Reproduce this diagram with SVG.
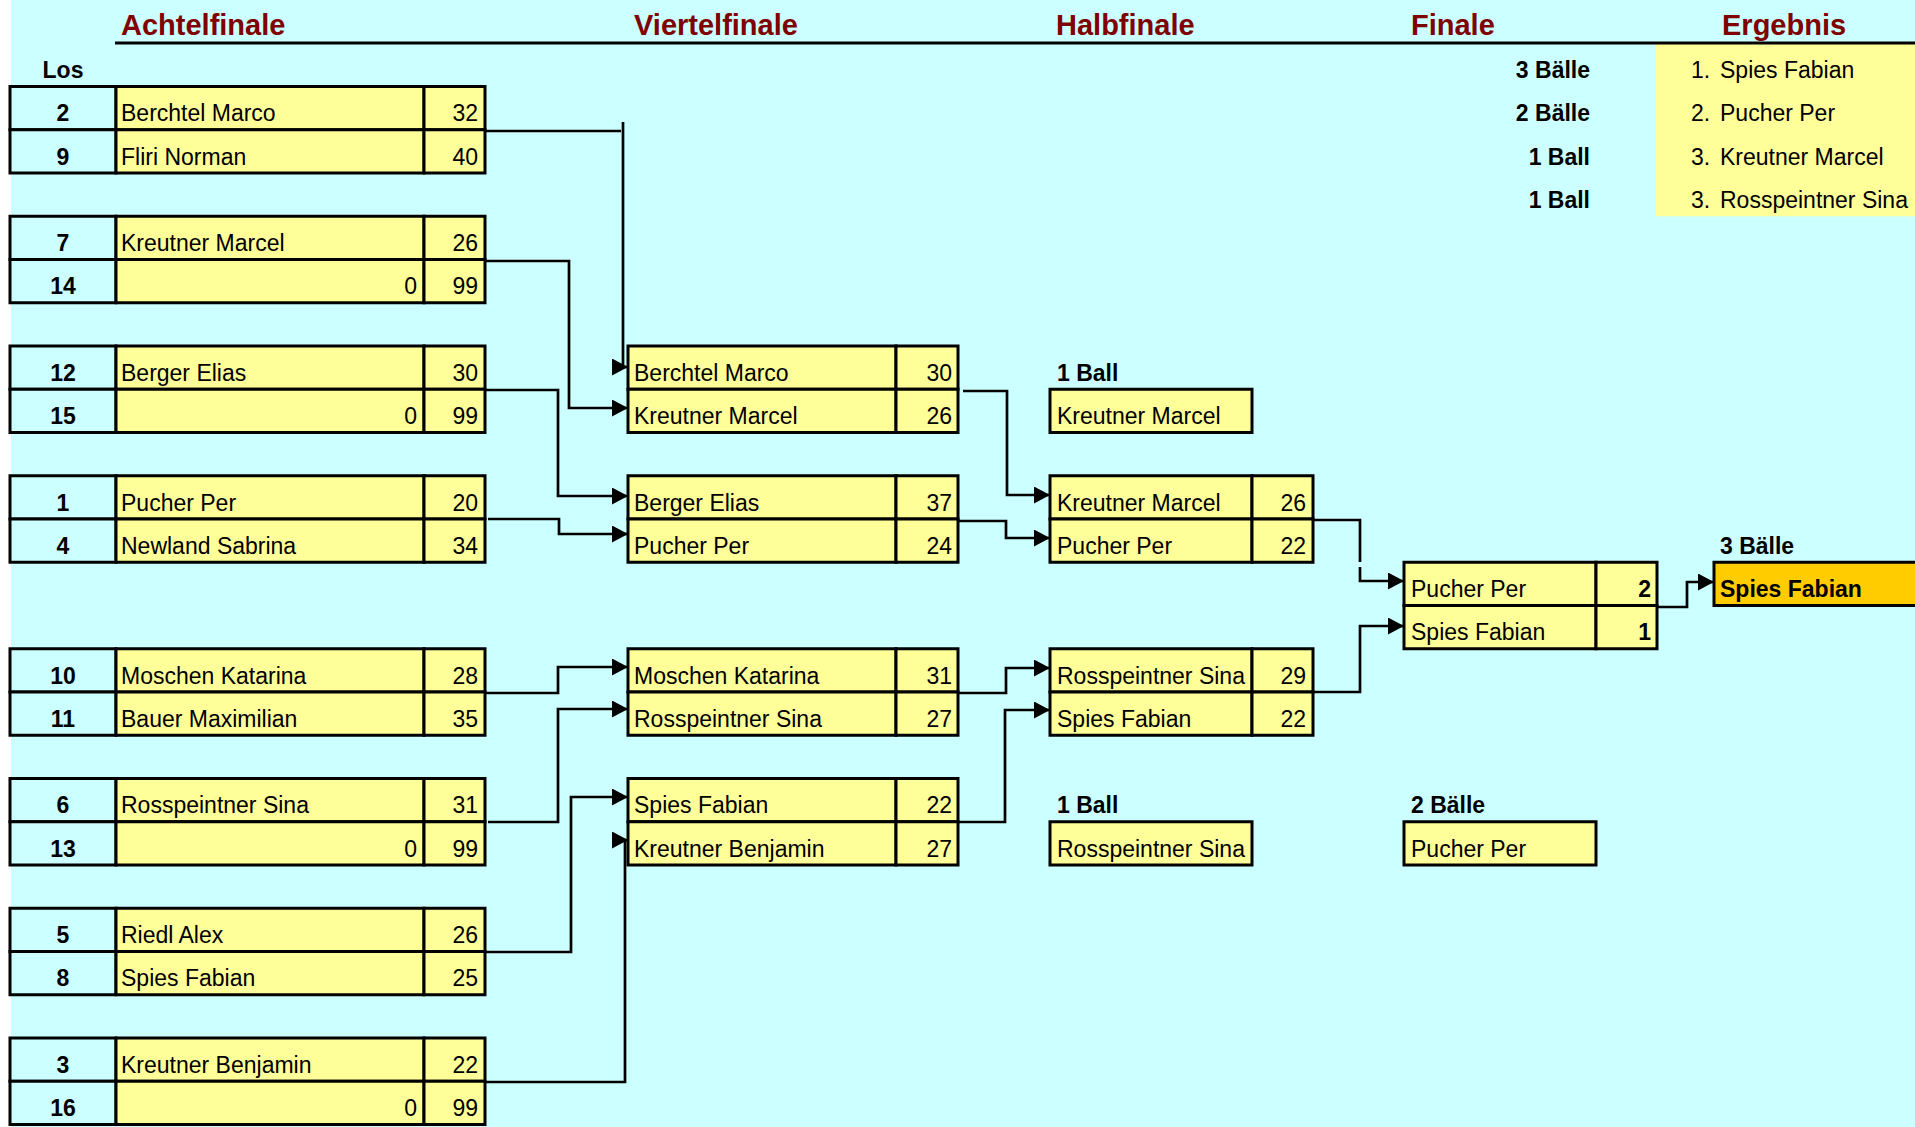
<svg xmlns="http://www.w3.org/2000/svg" width="1915" height="1127" viewBox="0 0 1915 1127">
<defs>
<style>
.cell{fill:#FFFF99;stroke:#000;stroke-width:3}
.los{fill:#CCFFFF;stroke:#000;stroke-width:3}
.t{font-family:"Liberation Sans",Arial,sans-serif;font-size:23px;fill:#000}
.b{font-weight:bold}
.r{text-anchor:end}
.c{text-anchor:middle}
.title{font-family:"Liberation Sans",Arial,sans-serif;font-size:29px;font-weight:bold;fill:#800000}
.conn{fill:none;stroke:#000;stroke-width:2.7}
</style>
<marker id="arr" markerUnits="userSpaceOnUse" markerWidth="17" markerHeight="18" refX="16" refY="8.5" orient="auto">
<path d="M0,0 L16,8.5 L0,17 Z" fill="#000"/>
</marker>
</defs>
<rect x="0" y="0" width="1915" height="1127" fill="#FFFFFF"/>
<rect x="11" y="0" width="1904" height="1127" fill="#CCFFFF"/>

<g id="headers">
<text class="title" x="121" y="34.5">Achtelfinale</text>
<text class="title" x="634" y="34.5">Viertelfinale</text>
<text class="title" x="1056" y="34.5">Halbfinale</text>
<text class="title" x="1411" y="34.5">Finale</text>
<text class="title" x="1722" y="34.5">Ergebnis</text>
</g>

<g id="ergebnis">
<rect x="1656" y="43.25" width="259" height="173" fill="#FFFF99"/>
<text class="t b r" x="1590" y="78">3 Bälle</text>
<text class="t b r" x="1590" y="121.25">2 Bälle</text>
<text class="t b r" x="1590" y="164.5">1 Ball</text>
<text class="t b r" x="1590" y="207.75">1 Ball</text>
<text class="t" x="1691" y="78">1.</text><text class="t" x="1720" y="78">Spies Fabian</text>
<text class="t" x="1691" y="121.25">2.</text><text class="t" x="1720" y="121.25">Pucher Per</text>
<text class="t" x="1691" y="164.5">3.</text><text class="t" x="1720" y="164.5">Kreutner Marcel</text>
<text class="t" x="1691" y="207.75">3.</text><text class="t" x="1720" y="207.75">Rosspeintner Sina</text>
</g>
<line x1="115" y1="43" x2="1915" y2="43" stroke="#000" stroke-width="3"/>

<text class="t b c" x="63" y="78">Los</text>

<g id="m1">
<rect class="los" x="10" y="86.5" width="106" height="43.25"/><rect class="cell" x="116" y="86.5" width="308" height="43.25"/><rect class="cell" x="424" y="86.5" width="61" height="43.25"/>
<rect class="los" x="10" y="129.75" width="106" height="43.25"/><rect class="cell" x="116" y="129.75" width="308" height="43.25"/><rect class="cell" x="424" y="129.75" width="61" height="43.25"/>
<text class="t b c" x="63" y="121.25">2</text><text class="t" x="121" y="121.25">Berchtel Marco</text><text class="t r" x="478" y="121.25">32</text>
<text class="t b c" x="63" y="164.5">9</text><text class="t" x="121" y="164.5">Fliri Norman</text><text class="t r" x="478" y="164.5">40</text>
</g>
<g id="m2">
<rect class="los" x="10" y="216.25" width="106" height="43.25"/><rect class="cell" x="116" y="216.25" width="308" height="43.25"/><rect class="cell" x="424" y="216.25" width="61" height="43.25"/>
<rect class="los" x="10" y="259.5" width="106" height="43.25"/><rect class="cell" x="116" y="259.5" width="308" height="43.25"/><rect class="cell" x="424" y="259.5" width="61" height="43.25"/>
<text class="t b c" x="63" y="251">7</text><text class="t" x="121" y="251">Kreutner Marcel</text><text class="t r" x="478" y="251">26</text>
<text class="t b c" x="63" y="294.25">14</text><text class="t r" x="417" y="294.25">0</text><text class="t r" x="478" y="294.25">99</text>
</g>
<g id="m3">
<rect class="los" x="10" y="346" width="106" height="43.25"/><rect class="cell" x="116" y="346" width="308" height="43.25"/><rect class="cell" x="424" y="346" width="61" height="43.25"/>
<rect class="los" x="10" y="389.25" width="106" height="43.25"/><rect class="cell" x="116" y="389.25" width="308" height="43.25"/><rect class="cell" x="424" y="389.25" width="61" height="43.25"/>
<text class="t b c" x="63" y="380.75">12</text><text class="t" x="121" y="380.75">Berger Elias</text><text class="t r" x="478" y="380.75">30</text>
<text class="t b c" x="63" y="424">15</text><text class="t r" x="417" y="424">0</text><text class="t r" x="478" y="424">99</text>
</g>
<g id="m4">
<rect class="los" x="10" y="475.75" width="106" height="43.25"/><rect class="cell" x="116" y="475.75" width="308" height="43.25"/><rect class="cell" x="424" y="475.75" width="61" height="43.25"/>
<rect class="los" x="10" y="519" width="106" height="43.25"/><rect class="cell" x="116" y="519" width="308" height="43.25"/><rect class="cell" x="424" y="519" width="61" height="43.25"/>
<text class="t b c" x="63" y="510.5">1</text><text class="t" x="121" y="510.5">Pucher Per</text><text class="t r" x="478" y="510.5">20</text>
<text class="t b c" x="63" y="553.75">4</text><text class="t" x="121" y="553.75">Newland Sabrina</text><text class="t r" x="478" y="553.75">34</text>
</g>
<g id="m5">
<rect class="los" x="10" y="648.75" width="106" height="43.25"/><rect class="cell" x="116" y="648.75" width="308" height="43.25"/><rect class="cell" x="424" y="648.75" width="61" height="43.25"/>
<rect class="los" x="10" y="692" width="106" height="43.25"/><rect class="cell" x="116" y="692" width="308" height="43.25"/><rect class="cell" x="424" y="692" width="61" height="43.25"/>
<text class="t b c" x="63" y="683.5">10</text><text class="t" x="121" y="683.5">Moschen Katarina</text><text class="t r" x="478" y="683.5">28</text>
<text class="t b c" x="63" y="726.75">11</text><text class="t" x="121" y="726.75">Bauer Maximilian</text><text class="t r" x="478" y="726.75">35</text>
</g>
<g id="m6">
<rect class="los" x="10" y="778.5" width="106" height="43.25"/><rect class="cell" x="116" y="778.5" width="308" height="43.25"/><rect class="cell" x="424" y="778.5" width="61" height="43.25"/>
<rect class="los" x="10" y="821.75" width="106" height="43.25"/><rect class="cell" x="116" y="821.75" width="308" height="43.25"/><rect class="cell" x="424" y="821.75" width="61" height="43.25"/>
<text class="t b c" x="63" y="813.25">6</text><text class="t" x="121" y="813.25">Rosspeintner Sina</text><text class="t r" x="478" y="813.25">31</text>
<text class="t b c" x="63" y="856.5">13</text><text class="t r" x="417" y="856.5">0</text><text class="t r" x="478" y="856.5">99</text>
</g>
<g id="m7">
<rect class="los" x="10" y="908.25" width="106" height="43.25"/><rect class="cell" x="116" y="908.25" width="308" height="43.25"/><rect class="cell" x="424" y="908.25" width="61" height="43.25"/>
<rect class="los" x="10" y="951.5" width="106" height="43.25"/><rect class="cell" x="116" y="951.5" width="308" height="43.25"/><rect class="cell" x="424" y="951.5" width="61" height="43.25"/>
<text class="t b c" x="63" y="943">5</text><text class="t" x="121" y="943">Riedl Alex</text><text class="t r" x="478" y="943">26</text>
<text class="t b c" x="63" y="986.25">8</text><text class="t" x="121" y="986.25">Spies Fabian</text><text class="t r" x="478" y="986.25">25</text>
</g>
<g id="m8">
<rect class="los" x="10" y="1038" width="106" height="43.25"/><rect class="cell" x="116" y="1038" width="308" height="43.25"/><rect class="cell" x="424" y="1038" width="61" height="43.25"/>
<rect class="los" x="10" y="1081.25" width="106" height="43.25"/><rect class="cell" x="116" y="1081.25" width="308" height="43.25"/><rect class="cell" x="424" y="1081.25" width="61" height="43.25"/>
<text class="t b c" x="63" y="1072.75">3</text><text class="t" x="121" y="1072.75">Kreutner Benjamin</text><text class="t r" x="478" y="1072.75">22</text>
<text class="t b c" x="63" y="1116">16</text><text class="t r" x="417" y="1116">0</text><text class="t r" x="478" y="1116">99</text>
</g>

<g id="vf1">
<rect class="cell" x="628" y="346" width="268" height="43.25"/><rect class="cell" x="896" y="346" width="62" height="43.25"/>
<rect class="cell" x="628" y="389.25" width="268" height="43.25"/><rect class="cell" x="896" y="389.25" width="62" height="43.25"/>
<text class="t" x="634" y="380.75">Berchtel Marco</text><text class="t r" x="952" y="380.75">30</text>
<text class="t" x="634" y="424">Kreutner Marcel</text><text class="t r" x="952" y="424">26</text>
</g>
<g id="vf2">
<rect class="cell" x="628" y="475.75" width="268" height="43.25"/><rect class="cell" x="896" y="475.75" width="62" height="43.25"/>
<rect class="cell" x="628" y="519" width="268" height="43.25"/><rect class="cell" x="896" y="519" width="62" height="43.25"/>
<text class="t" x="634" y="510.5">Berger Elias</text><text class="t r" x="952" y="510.5">37</text>
<text class="t" x="634" y="553.75">Pucher Per</text><text class="t r" x="952" y="553.75">24</text>
</g>
<g id="vf3">
<rect class="cell" x="628" y="648.75" width="268" height="43.25"/><rect class="cell" x="896" y="648.75" width="62" height="43.25"/>
<rect class="cell" x="628" y="692" width="268" height="43.25"/><rect class="cell" x="896" y="692" width="62" height="43.25"/>
<text class="t" x="634" y="683.5">Moschen Katarina</text><text class="t r" x="952" y="683.5">31</text>
<text class="t" x="634" y="726.75">Rosspeintner Sina</text><text class="t r" x="952" y="726.75">27</text>
</g>
<g id="vf4">
<rect class="cell" x="628" y="778.5" width="268" height="43.25"/><rect class="cell" x="896" y="778.5" width="62" height="43.25"/>
<rect class="cell" x="628" y="821.75" width="268" height="43.25"/><rect class="cell" x="896" y="821.75" width="62" height="43.25"/>
<text class="t" x="634" y="813.25">Spies Fabian</text><text class="t r" x="952" y="813.25">22</text>
<text class="t" x="634" y="856.5">Kreutner Benjamin</text><text class="t r" x="952" y="856.5">27</text>
</g>

<g id="hf-loser1">
<text class="t b" x="1057" y="380.75">1 Ball</text>
<rect class="cell" x="1050" y="389.25" width="202" height="43.25"/>
<text class="t" x="1057" y="424">Kreutner Marcel</text>
</g>
<g id="hf1">
<rect class="cell" x="1050" y="475.75" width="202" height="43.25"/><rect class="cell" x="1252" y="475.75" width="61" height="43.25"/>
<rect class="cell" x="1050" y="519" width="202" height="43.25"/><rect class="cell" x="1252" y="519" width="61" height="43.25"/>
<text class="t" x="1057" y="510.5">Kreutner Marcel</text><text class="t r" x="1306" y="510.5">26</text>
<text class="t" x="1057" y="553.75">Pucher Per</text><text class="t r" x="1306" y="553.75">22</text>
</g>
<g id="hf2">
<rect class="cell" x="1050" y="648.75" width="202" height="43.25"/><rect class="cell" x="1252" y="648.75" width="61" height="43.25"/>
<rect class="cell" x="1050" y="692" width="202" height="43.25"/><rect class="cell" x="1252" y="692" width="61" height="43.25"/>
<text class="t" x="1057" y="683.5">Rosspeintner Sina</text><text class="t r" x="1306" y="683.5">29</text>
<text class="t" x="1057" y="726.75">Spies Fabian</text><text class="t r" x="1306" y="726.75">22</text>
</g>
<g id="hf-loser2">
<text class="t b" x="1057" y="813.25">1 Ball</text>
<rect class="cell" x="1050" y="821.75" width="202" height="43.25"/>
<text class="t" x="1057" y="856.5">Rosspeintner Sina</text>
</g>

<g id="final">
<rect class="cell" x="1404" y="562.25" width="192" height="43.25"/><rect class="cell" x="1596" y="562.25" width="61" height="43.25"/>
<rect class="cell" x="1404" y="605.5" width="192" height="43.25"/><rect class="cell" x="1596" y="605.5" width="61" height="43.25"/>
<text class="t" x="1411" y="597">Pucher Per</text><text class="t b r" x="1651" y="597">2</text>
<text class="t" x="1411" y="640.25">Spies Fabian</text><text class="t b r" x="1651" y="640.25">1</text>
</g>
<g id="final-loser">
<text class="t b" x="1411" y="813.25">2 Bälle</text>
<rect class="cell" x="1404" y="821.75" width="192" height="43.25"/>
<text class="t" x="1411" y="856.5">Pucher Per</text>
</g>
<g id="winner">
<text class="t b" x="1720" y="553.75">3 Bälle</text>
<rect x="1714" y="562.25" width="220" height="43.25" fill="#FFCC00" stroke="#000" stroke-width="3"/>
<text class="t b" x="1720" y="597">Spies Fabian</text>
</g>

<g id="connectors">
<path class="conn" d="M485,131 H621"/>
<path class="conn" d="M623,122 V367 H628" marker-end="url(#arr)"/>
<path class="conn" d="M485,261 H569 V408 H628" marker-end="url(#arr)"/>
<path class="conn" d="M485,390 H558 V496 H628" marker-end="url(#arr)"/>
<path class="conn" d="M488,519 H559 V534 H628" marker-end="url(#arr)"/>
<path class="conn" d="M485,693 H558 V667 H628" marker-end="url(#arr)"/>
<path class="conn" d="M488,822 H558 V709 H628" marker-end="url(#arr)"/>
<path class="conn" d="M485,952 H571 V797 H628" marker-end="url(#arr)"/>
<path class="conn" d="M485,1082 H625 V840 H628" stroke-width="3.5" marker-end="url(#arr)"/>
<path class="conn" d="M963,391 H1007 V495 H1050" marker-end="url(#arr)"/>
<path class="conn" d="M958,521 H1006 V538 H1050" marker-end="url(#arr)"/>
<path class="conn" d="M958,693 H1006 V668 H1050" marker-end="url(#arr)"/>
<path class="conn" d="M958,822 H1005 V710 H1050" marker-end="url(#arr)"/>
<path class="conn" d="M1313,520 H1360 V562"/>
<path class="conn" d="M1360,567 V581 H1404" marker-end="url(#arr)"/>
<path class="conn" d="M1313,692 H1360 V626 H1404" marker-end="url(#arr)"/>
<path class="conn" d="M1657,607 H1687 V582 H1714" marker-end="url(#arr)"/>
</g>
</svg>
